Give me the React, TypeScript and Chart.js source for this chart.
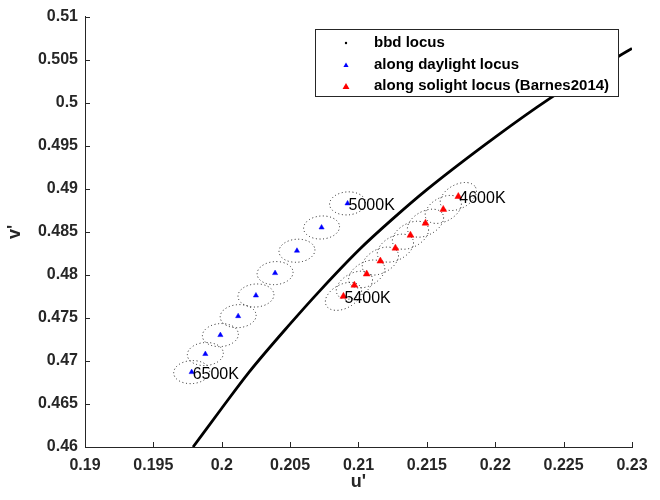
import React, { useEffect, useRef } from 'react';
import { Chart, registerables } from 'chart.js';

Chart.register(...registerables);

// black-body (bbd) locus
const bbdU = [0.1979, 0.2000, 0.2020, 0.2050, 0.2072, 0.2101, 0.2125, 0.2150, 0.2200, 0.2240, 0.2270, 0.2300];
const bbdV = [0.4600, 0.4645, 0.4687, 0.4743, 0.4782, 0.4830, 0.4865, 0.4899, 0.4960, 0.5005, 0.5035, 0.5063];

// along daylight locus (5000K ... 6500K)
const daylightU = [0.2092, 0.2073, 0.2055, 0.2039, 0.2025, 0.2012, 0.1999, 0.1988, 0.1978];
const daylightV = [0.4883, 0.4855, 0.4828, 0.4802, 0.4776, 0.4752, 0.4730, 0.4708, 0.4687];

// along solight locus (4600K ... 5400K)
const solightU = [0.2173, 0.2162, 0.2149, 0.2138, 0.2127, 0.2116, 0.2106, 0.2097, 0.2089];
const solightV = [0.4891, 0.4876, 0.4860, 0.4846, 0.4831, 0.4816, 0.4801, 0.4788, 0.4775];

const xTicks = [0.19, 0.195, 0.2, 0.205, 0.21, 0.215, 0.22, 0.225, 0.23];
const yTicks = [0.46, 0.465, 0.47, 0.475, 0.48, 0.485, 0.49, 0.495, 0.5, 0.505, 0.51];

const seriesNames = ['bbd locus', 'along daylight locus', 'along solight locus (Barnes2014)'];
const cctLabels = ['5000K', '6500K', '4600K', '5400K'];
const cctSeries = [1, 1, 2, 2];
const cctIndex = [0, 8, 0, 8];

const FONT = '"Liberation Sans", Arial, Helvetica, sans-serif';
const AXIS_COLOR = '#262626';

function trianglePath(ctx: CanvasRenderingContext2D, x: number, y: number, r: number) {
  ctx.beginPath();
  let rad = 0;
  ctx.moveTo(x + Math.sin(rad) * r, y - Math.cos(rad) * r);
  rad += (2 * Math.PI) / 3;
  ctx.lineTo(x + Math.sin(rad) * r, y - Math.cos(rad) * r);
  rad += (2 * Math.PI) / 3;
  ctx.lineTo(x + Math.sin(rad) * r, y - Math.cos(rad) * r);
  ctx.closePath();
}

const ellipsePlugin = {
  id: 'ellipses',
  beforeDatasetsDraw(chart: any) {
    const ctx = chart.ctx as CanvasRenderingContext2D;
    ctx.save();
    ctx.strokeStyle = '#1a1a1a';
    ctx.lineWidth = 1;
    ctx.setLineDash([1, 2.6]);
    [1, 2].forEach((di) => {
      const meta = chart.getDatasetMeta(di);
      meta.data.forEach((pt: any) => {
        ctx.beginPath();
        if (di === 1) ctx.ellipse(pt.x, pt.y, 18, 11.5, (-4 * Math.PI) / 180, 0, Math.PI * 2);
        else ctx.ellipse(pt.x, pt.y, 19.5, 12, (-28 * Math.PI) / 180, 0, Math.PI * 2);
        ctx.stroke();
      });
    });
    ctx.restore();
  },
};

const decorPlugin = {
  id: 'decor',
  afterDraw(chart: any) {
    const ctx = chart.ctx as CanvasRenderingContext2D;
    const xs = chart.scales.x;
    const ys = chart.scales.y;
    const area = chart.chartArea;
    ctx.save();
    // inward ticks
    ctx.strokeStyle = AXIS_COLOR;
    ctx.lineWidth = 1;
    xTicks.forEach((v) => {
      const px = Math.round(xs.getPixelForValue(v)) + 0.5;
      ctx.beginPath();
      ctx.moveTo(px, area.bottom);
      ctx.lineTo(px, area.bottom - 5);
      ctx.stroke();
    });
    yTicks.forEach((v) => {
      const py = Math.round(ys.getPixelForValue(v)) + 0.5;
      ctx.beginPath();
      ctx.moveTo(area.left, py);
      ctx.lineTo(area.left + 5, py);
      ctx.stroke();
    });
    // CCT labels
    ctx.fillStyle = '#000000';
    ctx.font = `16px ${FONT}`;
    ctx.textAlign = 'left';
    ctx.textBaseline = 'middle';
    cctLabels.forEach((t, i) => {
      const pt = chart.getDatasetMeta(cctSeries[i]).data[cctIndex[i]];
      ctx.fillText(t, pt.x + 1, pt.y + 2);
    });
    // legend
    const lx = 315.5, ly = 29.5, lw = 303, lh = 67;
    ctx.fillStyle = '#ffffff';
    ctx.fillRect(lx, ly, lw, lh);
    ctx.strokeStyle = AXIS_COLOR;
    ctx.strokeRect(lx, ly, lw, lh);
    const rows = [43, 64.5, 86];
    ctx.font = `bold 15px ${FONT}`;
    ctx.fillStyle = '#000000';
    seriesNames.forEach((name, i) => {
      const y = rows[i];
      if (i === 0) {
        ctx.fillStyle = '#000000';
        ctx.beginPath();
        ctx.arc(346, y, 1.2, 0, Math.PI * 2);
        ctx.fill();
      } else {
        ctx.fillStyle = i === 1 ? '#0000ff' : '#ff0000';
        trianglePath(ctx, 346, y + 1, i === 1 ? 3 : 4);
        ctx.fill();
      }
      ctx.fillStyle = '#000000';
      ctx.fillText(name, 374, y);
    });
    ctx.restore();
  },
};

export default function App() {
  const ref = useRef<HTMLCanvasElement | null>(null);
  useEffect(() => {
    if (!ref.current) return;
    const chart = new Chart(ref.current, {
      type: 'scatter',
      data: {
        datasets: [
          {
            label: seriesNames[0],
            data: bbdU.map((u, i) => ({ x: u, y: bbdV[i] })),
            showLine: true,
            borderColor: '#000000',
            borderWidth: 2.8,
            pointRadius: 0,
            cubicInterpolationMode: 'monotone',
          },
          {
            label: seriesNames[1],
            data: daylightU.map((u, i) => ({ x: u, y: daylightV[i] })),
            pointStyle: 'triangle',
            pointRadius: 3,
            borderWidth: 0.5,
            backgroundColor: '#0000ff',
            borderColor: '#0000ff',
          },
          {
            label: seriesNames[2],
            data: solightU.map((u, i) => ({ x: u, y: solightV[i] })),
            pointStyle: 'triangle',
            pointRadius: 4,
            borderWidth: 0.5,
            backgroundColor: '#ff0000',
            borderColor: '#ff0000',
          },
        ],
      },
      options: {
        responsive: false,
        animation: false,
        events: [],
        layout: { padding: { top: 15, right: 28, left: 0, bottom: 0 } },
        plugins: { legend: { display: false }, tooltip: { enabled: false } },
        scales: {
          x: {
            type: 'linear',
            min: 0.19,
            max: 0.23,
            grid: { display: false, drawTicks: false },
            border: { display: true, color: AXIS_COLOR, width: 1 },
            afterBuildTicks: (s: any) => {
              s.ticks = xTicks.map((value) => ({ value }));
            },
            afterFit: (s: any) => {
              s.height = 53;
            },
            ticks: {
              padding: 9,
              color: AXIS_COLOR,
              font: { family: FONT, size: 16, weight: 'bold' },
              maxRotation: 0,
              autoSkip: false,
              callback: (v: any) => String(+Number(v).toFixed(3)),
            },
            title: {
              display: true,
              text: "u'",
              color: AXIS_COLOR,
              font: { family: FONT, size: 18, weight: 'bold' },
              padding: { top: 0, bottom: 7 },
            },
          },
          y: {
            type: 'linear',
            min: 0.46,
            max: 0.51,
            grid: { display: false, drawTicks: false },
            border: { display: true, color: AXIS_COLOR, width: 1 },
            afterBuildTicks: (s: any) => {
              s.ticks = yTicks.map((value) => ({ value }));
            },
            afterFit: (s: any) => {
              s.width = 85;
            },
            ticks: {
              padding: 7,
              color: AXIS_COLOR,
              font: { family: FONT, size: 16, weight: 'bold' },
              autoSkip: false,
              callback: (v: any) => String(+Number(v).toFixed(3)),
            },
            title: {
              display: true,
              text: "v'",
              color: AXIS_COLOR,
              font: { family: FONT, size: 18, weight: 'bold' },
              padding: { top: 4, bottom: 0 },
            },
          },
        },
      },
      plugins: [ellipsePlugin, decorPlugin],
    } as any);
    return () => chart.destroy();
  }, []);
  return (
    <div style={{ position: 'fixed', left: 0, top: 0, width: 660, height: 500, background: '#ffffff' }}>
      <canvas ref={ref} width={660} height={500} style={{ display: 'block' }} />
    </div>
  );
}
